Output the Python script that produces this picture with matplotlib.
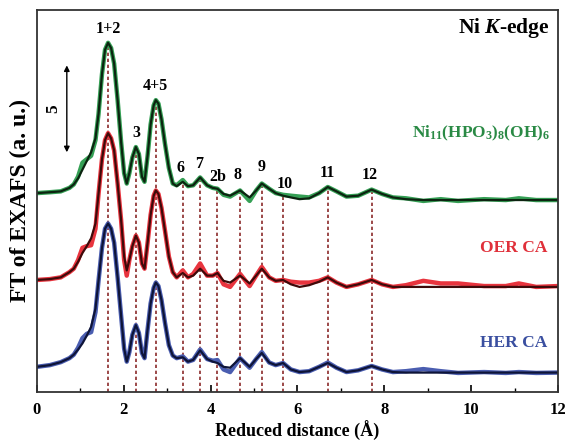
import numpy as np
import matplotlib
matplotlib.use("Agg")
import matplotlib.pyplot as plt

plt.rcParams['font.family'] = 'Liberation Serif'
plt.rcParams['font.weight'] = 'bold'
plt.rcParams['mathtext.fontset'] = 'custom'
plt.rcParams['mathtext.rm'] = 'Liberation Serif:bold'
plt.rcParams['mathtext.it'] = 'Liberation Serif:italic:bold'
plt.rcParams['mathtext.bf'] = 'Liberation Serif:bold'

# reduced distance grid (A)
r = [0.00, 0.30, 0.55, 0.75, 0.85, 0.95, 1.05, 1.15, 1.25, 1.35, 1.42, 1.50, 1.57, 1.64,
     1.71, 1.78, 1.86, 1.94, 2.01, 2.07, 2.13, 2.20, 2.28, 2.35, 2.42, 2.48, 2.55, 2.62,
     2.69, 2.74, 2.80, 2.87, 2.95, 3.04, 3.13, 3.22, 3.36, 3.48, 3.60, 3.76, 3.92, 4.05,
     4.16, 4.30, 4.45, 4.68, 4.90, 5.05, 5.18, 5.35, 5.50, 5.67, 5.85, 6.05, 6.27, 6.50,
     6.70, 6.90, 7.13, 7.40, 7.71, 7.95, 8.20, 8.50, 8.90, 9.30, 9.70, 10.3, 10.8, 11.1,
     11.5, 12.0]

# Ni11(HPO3)8(OH)6  (offset curve)
ni_fit = [11.45, 11.5, 11.55, 11.75, 11.95, 12.3, 12.8, 13.3, 13.8, 14.6, 16.0, 18.3, 19.7, 20.1,
          19.8, 18.9, 16.8, 14.4, 12.6, 12.0, 12.6, 13.5, 14.1, 13.7, 12.4, 12.1, 13.6, 15.4,
          16.5, 16.8, 16.6, 15.7, 14.3, 12.9, 12.0, 11.85, 12.1, 11.85, 11.9, 12.35, 11.9, 11.75,
          11.7, 11.4, 11.3, 11.6, 11.2, 11.6, 12.0, 11.7, 11.45, 11.3, 11.2, 11.1, 11.15, 11.45,
          11.8, 11.55, 11.25, 11.3, 11.65, 11.4, 11.2, 11.1, 11.05, 11.05, 11.05, 11.05, 11.05, 11.05,
          11.05, 11.05]
ni_exp = [11.45, 11.5, 11.55, 11.75, 11.95, 12.4, 13.2, 13.4, 13.6, 14.5, 16.0, 18.3, 19.7, 20.1,
          19.8, 18.9, 16.8, 14.4, 12.6, 12.0, 12.6, 13.5, 14.1, 13.7, 12.4, 12.1, 13.6, 15.4,
          16.5, 16.8, 16.6, 15.7, 14.3, 12.9, 12.0, 11.9, 12.2, 11.85, 11.9, 12.35, 11.9, 11.75,
          11.7, 11.35, 11.25, 11.6, 11.0, 11.6, 12.0, 11.7, 11.45, 11.35, 11.3, 11.25, 11.2, 11.45,
          11.8, 11.55, 11.25, 11.3, 11.65, 11.4, 11.2, 11.15, 11.0, 11.1, 11.0, 11.1, 11.05, 11.15,
          11.05, 11.05]

# OER CA
oer_fit = [6.45, 6.5, 6.6, 6.9, 7.1, 7.5, 8.0, 8.4, 8.85, 9.7, 11.4, 13.4, 14.5, 14.9,
           14.6, 13.9, 12.0, 9.9, 7.8, 7.0, 7.6, 8.4, 9.0, 8.6, 7.4, 7.1, 8.6, 10.2,
           11.3, 11.6, 11.4, 10.6, 9.3, 7.8, 6.9, 6.6, 6.85, 6.6, 6.7, 7.1, 6.7, 6.7,
           6.85, 6.4, 6.3, 6.7, 6.25, 6.7, 7.1, 6.6, 6.4, 6.45, 6.2, 6.05, 6.15, 6.35,
           6.6, 6.3, 6.05, 6.2, 6.45, 6.2, 6.05, 6.05, 6.05, 6.05, 6.05, 6.05, 6.05, 6.05,
           6.05, 6.05]
oer_exp = [6.45, 6.5, 6.6, 6.9, 7.1, 7.6, 8.3, 8.4, 8.45, 9.4, 11.4, 13.4, 14.5, 14.9,
           14.6, 13.9, 12.0, 9.9, 7.6, 6.7, 7.6, 8.4, 9.0, 8.6, 7.4, 7.1, 8.6, 10.2,
           11.3, 11.6, 11.4, 10.6, 9.3, 7.8, 6.9, 6.6, 7.0, 6.6, 6.8, 7.4, 6.7, 6.7,
           6.85, 6.2, 6.05, 6.8, 6.1, 6.7, 7.2, 6.6, 6.4, 6.45, 6.35, 6.3, 6.3, 6.4,
           6.6, 6.3, 6.05, 6.2, 6.45, 6.2, 6.05, 6.15, 6.4, 6.25, 6.25, 6.1, 6.1, 6.25,
           6.05, 6.1]

# HER CA
her_fit = [1.45, 1.55, 1.72, 1.95, 2.15, 2.45, 2.8, 3.25, 3.75, 4.8, 6.4, 8.3, 9.4, 9.7,
           9.4, 8.6, 6.6, 4.4, 2.5, 1.75, 2.3, 3.3, 3.85, 3.4, 2.25, 1.95, 3.6, 5.1,
           6.0, 6.3, 6.1, 5.3, 4.0, 2.7, 2.1, 1.95, 2.0, 1.75, 1.85, 2.4, 1.9, 1.75,
           1.67, 1.45, 1.4, 1.95, 1.45, 1.9, 2.25, 1.7, 1.55, 1.67, 1.3, 1.15, 1.2, 1.45,
           1.67, 1.4, 1.15, 1.25, 1.5, 1.3, 1.15, 1.12, 1.12, 1.12, 1.12, 1.12, 1.12, 1.12,
           1.12, 1.12]
her_exp = [1.45, 1.55, 1.72, 1.95, 2.15, 2.55, 3.1, 3.35, 3.45, 4.6, 6.4, 8.3, 9.4, 9.7,
           9.4, 8.6, 6.6, 4.4, 2.5, 1.75, 2.3, 3.3, 3.85, 3.4, 2.25, 1.95, 3.6, 5.1,
           6.0, 6.3, 6.1, 5.3, 4.0, 2.7, 2.1, 1.95, 2.05, 1.75, 1.85, 2.45, 1.9, 1.8,
           1.84, 1.3, 1.15, 1.95, 1.4, 1.9, 2.3, 1.7, 1.55, 1.67, 1.3, 1.15, 1.2, 1.45,
           1.7, 1.4, 1.15, 1.25, 1.5, 1.3, 1.15, 1.2, 1.32, 1.2, 1.1, 1.15, 1.1, 1.15,
           1.1, 1.12]

# shell positions and labels
peak_r = [1.64, 2.28, 2.74, 3.36, 3.76, 4.16, 4.68, 5.18, 5.67, 6.70, 7.71]
peak_lbl = ['1+2', '3', '4+5', '6', '7', '2b', '8', '9', '10', '11', '12']
lbl_x = [1.64, 2.28, 2.74, 3.30, 3.73, 4.17, 4.63, 5.18, 5.71, 6.68, 7.67]
lbl_y = [20.9, 14.9, 17.6, 12.9, 13.15, 12.4, 12.5, 12.95, 12.0, 12.6, 12.5]

fig = plt.figure(figsize=(5.67, 4.45), dpi=100)
ax = fig.add_axes([0.065, 0.119, 0.919, 0.859])

ax.plot(r, ni_exp, color='#35a055', lw=3.2, solid_capstyle='round')
ax.plot(r, ni_fit, color='#0c2410', lw=1.6)
ax.plot(r, oer_exp, color='#e8343e', lw=3.2, solid_capstyle='round')
ax.plot(r, oer_fit, color='#3e0a0a', lw=1.6)
ax.plot(r, her_exp, color='#4a5db0', lw=3.2, solid_capstyle='round')
ax.plot(r, her_fit, color='#0e1438', lw=1.6)

tops = np.interp(peak_r, r, ni_fit)
ax.vlines(peak_r, 0, tops, colors='#8b2a2a', linestyles=(0, (2, 1.6)), lw=1.2, zorder=0)

for x, y, s in zip(lbl_x, lbl_y, peak_lbl):
    ax.text(x, y, s, ha='center', va='center', fontsize=11.5, fontweight='bold')

# scale bar
ax.annotate('', xy=(0.69, 18.8), xytext=(0.69, 13.8),
            arrowprops=dict(arrowstyle='<|-|>', color='k', lw=1.0, mutation_scale=8,
                            shrinkA=0, shrinkB=0))
ax.text(0.37, 16.3, '5', rotation=90, ha='center', va='center', fontsize=12.5)

ax.text(0.985, 0.953, r'Ni $\mathit{K}$-edge', transform=ax.transAxes, ha='right', va='center',
        fontsize=15.5)
ax.text(0.985, 14.9, r'Ni$_{11}$(HPO$_3$)$_8$(OH)$_6$', transform=ax.get_yaxis_transform(),
        ha='right', va='center', fontsize=12.4, color='#2a8a45')
ax.text(0.98, 8.3, 'OER CA', transform=ax.get_yaxis_transform(), ha='right', va='center',
        fontsize=12.5, color='#e0303a')
ax.text(0.98, 2.8, 'HER CA', transform=ax.get_yaxis_transform(), ha='right', va='center',
        fontsize=12.5, color='#3a4fa0')

ax.set_xlim(0, 12)
ax.set_ylim(0, 22)
ax.set_xticks(range(0, 13, 2))
ax.set_xticks(range(1, 13, 2), minor=True)
ax.set_yticks([])
ax.tick_params(axis='x', which='major', direction='in', length=5, width=1.2, labelsize=12, pad=7)
ax.tick_params(axis='x', which='minor', direction='in', length=3, width=1.0)
for s in ax.spines.values():
    s.set_linewidth(1.3)
    s.set_color('#333333')

ax.set_xlabel('Reduced distance (Å)', fontsize=13, fontweight='bold', labelpad=2)
ax.set_ylabel('FT of EXAFS (a. u.)', fontsize=17, fontweight='bold', labelpad=4)

fig.savefig('out.png', dpi=100)
